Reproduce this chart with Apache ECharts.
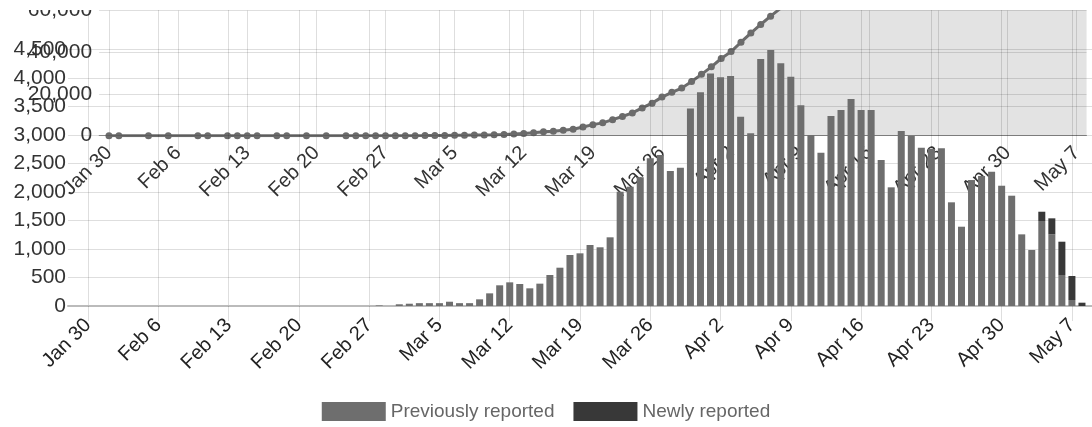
<!DOCTYPE html>
<html><head><meta charset="utf-8">
<script src="https://cdn.jsdelivr.net/npm/echarts@6/dist/echarts.min.js"></script>
<style>
html,body{margin:0;padding:0;background:#fff;}
#wrap{position:relative;width:1092px;height:427px;overflow:hidden;}
#area,#bars{position:absolute;left:0;top:0;width:1092px;height:427px;}
#mask{position:absolute;left:0;top:0;width:1092px;height:10px;background:#fff;z-index:1;}
#bars{z-index:2;}
</style></head>
<body><div id="wrap"><div id="area"></div><div id="mask"></div><div id="bars"></div></div>
<script>
const MONTHS = ['Jan','Feb','Mar','Apr','May'];
function makeDates(m, d, count) {
  const out = [];
  const t = new Date(Date.UTC(2020, m, d));
  for (let i = 0; i < count; i++) {
    out.push(MONTHS[t.getUTCMonth()] + ' ' + t.getUTCDate());
    t.setUTCDate(t.getUTCDate() + 1);
  }
  return out;
}
// Bar chart categories: Jan 28 .. May 9
const barDates = makeDates(0, 28, 103);
// Cumulative chart categories: Jan 29 .. May 8
const areaDates = makeDates(0, 29, 101);

// Daily bars, Feb 28 .. May 8 (preceded by 31 empty days Jan 28..Feb 27)
const prevFromFeb28 = [10, null,
  30, 40, 50, 50, 50, 75, 50, 50, 117, 222,
  363, 415, 386, 310, 392, 544, 672, 895, 924, 1070,
  1030, 1205, 2005, 2093, 2257, 2590, 2649, 2368, 2426, 3467, 3748,
  4081, 4011, 4034, 3320, 3029, 4332, 4490, 4257, 4022, 3520,
  2999, 2689, 3333, 3438, 3631, 3438, 3438, 2561, 2082, 3070,
  2982, 2777, 2754, 2766, 1819, 1391, 2210, 2280, 2356, 2110,
  1935, 1257, 982, 1491, 1258, 544, 105, 0];
// Newly reported, May 4 .. May 8 (preceded by 97 empty days Jan 28..May 3)
const newFromMay4 = [163, 280, 584, 421, 58];
const previouslyReported = new Array(31).fill(null).concat(prevFromFeb28);
const newlyReported = new Array(97).fill(null).concat(newFromMay4);

// Cumulative line, Jan 29 .. May 8
const cumulative = [
  null, 0, 0, null, null, 0, null, 0, null, null, 0, 0, null, 0, 0, 0, 0, null, 0, 0, null, 0, null, 0, null,
  0, 0, 0, 0, 0, 0, 10,
  10, 40, 80, 130, 180, 230, 305, 355, 405, 520,
  790, 1100, 1400, 1860, 2180, 2640, 3100, 4180, 5300, 6150,
  7700, 9200, 10900, 13300, 15600, 18500, 20800, 22800, 26000, 29400, 33000,
  37000, 40300, 44800, 49200, 53300, 57300, 61000, 65200, 69500, 73500,
  77000, 80000, 83000, 86400, 89800, 93400, 96900, 100300, 102900, 105000,
  108000, 111000, 113800, 116500, 119300, 121100, 122500, 124700, 127000, 129400,
  131500, 133400, 134700, 135700, 137400, 139000, 140200, 140500];

const FONT = 'Liberation Sans, Arial, sans-serif';
const GRID_LINE = 'rgba(0,0,0,0.13)';
const fmt = v => v.toLocaleString('en-US');

// ---------- cumulative area chart (underneath) ----------
const areaWeekly = (i) => (i - 1) % 7 === 0;
const areaChart = echarts.init(document.getElementById('area'), null, {renderer: 'canvas'});
areaChart.setOption({
  animation: false,
  textStyle: {fontFamily: FONT},
  grid: {left: 99.1, width: 987.5, top: 6.4, height: 129.3, containLabel: false},
  xAxis: {
    type: 'category', data: areaDates, boundaryGap: false,
    axisLine: {lineStyle: {color: 'rgba(0,0,0,0.3)'}},
    axisTick: {show: true, length: 15, interval: areaWeekly, lineStyle: {color: GRID_LINE}},
    axisLabel: {interval: areaWeekly, rotate: 45, fontSize: 20, color: '#333', margin: 14, fontFamily: FONT},
    splitLine: {show: true, interval: areaWeekly, lineStyle: {color: GRID_LINE}}
  },
  yAxis: {
    type: 'value', min: 0, max: 60000, interval: 20000,
    axisLine: {show: false}, axisTick: {show: false},
    axisLabel: {fontSize: 21, color: '#333', margin: 7, formatter: fmt, fontFamily: FONT},
    splitLine: {lineStyle: {color: GRID_LINE}}
  },
  series: [{
    type: 'line', data: cumulative, connectNulls: true, clip: true,
    symbol: 'circle', symbolSize: 7, showSymbol: true, showAllSymbol: true,
    lineStyle: {width: 3, color: '#6b6b6b'},
    itemStyle: {color: '#6b6b6b'},
    areaStyle: {color: 'rgba(0,0,0,0.11)', opacity: 1}
  }]
});

// ---------- daily bar chart (on top) ----------
const barWeekly = (i) => (i - 2) % 7 === 0;
const barChart = echarts.init(document.getElementById('bars'), null, {renderer: 'canvas'});
barChart.setOption({
  animation: false,
  backgroundColor: 'transparent',
  textStyle: {fontFamily: FONT},
  legend: {
    data: ['Previously reported', 'Newly reported'],
    left: 'center', top: 402, padding: 0,
    icon: 'rect', itemWidth: 64, itemHeight: 19, itemGap: 19,
    textStyle: {fontSize: 19, color: '#666', fontFamily: FONT}
  },
  grid: [
    {left: 68, width: 1029, top: 49.5, height: 256.5},
    {left: 68, width: 1029, top: 10, height: 296}
  ],
  xAxis: [{
    type: 'category', data: barDates, boundaryGap: false, gridIndex: 0,
    axisLine: {lineStyle: {color: '#bbb', width: 2}},
    axisTick: {show: true, length: 15, interval: barWeekly, lineStyle: {color: GRID_LINE}},
    axisLabel: {interval: barWeekly, rotate: 45, fontSize: 20, color: '#222', margin: 16, fontFamily: FONT},
    splitLine: {show: false}
  }, {
    type: 'category', data: barDates, boundaryGap: false, gridIndex: 1,
    axisLine: {show: false}, axisTick: {show: false}, axisLabel: {show: false},
    splitLine: {show: true, interval: barWeekly, lineStyle: {color: GRID_LINE}}
  }],
  yAxis: [{
    type: 'value', min: 0, max: 4500, interval: 500, gridIndex: 0,
    axisLine: {show: false}, axisTick: {show: false},
    axisLabel: {fontSize: 21, color: '#333', margin: 2, formatter: fmt, fontFamily: FONT},
    splitLine: {lineStyle: {color: GRID_LINE}}
  }, {
    type: 'value', min: 0, max: 1, gridIndex: 1, show: false
  }],
  series: [{
    name: 'Previously reported', type: 'bar', stack: 'day', barWidth: 7,
    xAxisIndex: 0, yAxisIndex: 0,
    data: previouslyReported, itemStyle: {color: '#6e6e6e'}
  }, {
    name: 'Newly reported', type: 'bar', stack: 'day', barWidth: 7,
    xAxisIndex: 0, yAxisIndex: 0,
    data: newlyReported, itemStyle: {color: '#383838'}
  }]
});
</script></body></html>
